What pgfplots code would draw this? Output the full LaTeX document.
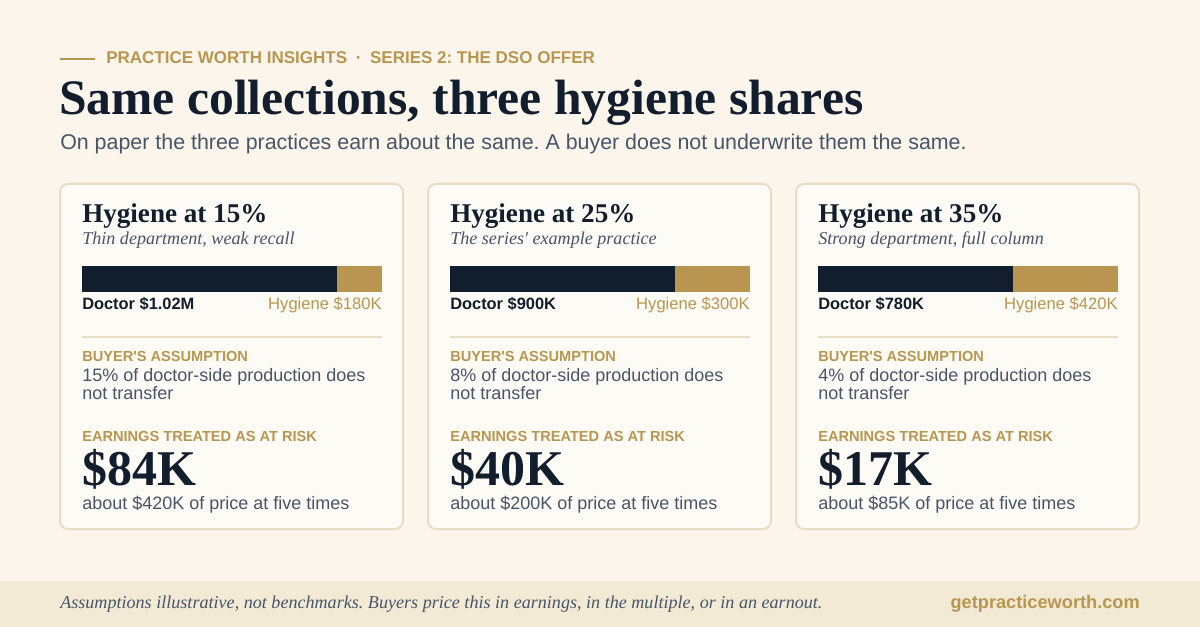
\documentclass[border=0pt]{standalone}
\usepackage{pgfplots}
\pgfplotsset{compat=1.18}
\usepackage{fontspec}
\setmainfont{Liberation Sans}
\newfontfamily\serif{Liberation Serif}
\frenchspacing

\definecolor{bg}{RGB}{251,245,235}
\definecolor{band}{RGB}{243,234,214}
\definecolor{cardfill}{RGB}{253,251,246}
\definecolor{cardline}{RGB}{231,220,196}
\definecolor{navy}{RGB}{18,30,46}
\definecolor{gold}{RGB}{184,150,79}
\definecolor{slate}{RGB}{71,85,105}

% sizes given in px of the 1200 wide picture (1px = 0.75pt)
\newcommand{\px}[1]{\fontsize{\fpeval{#1*0.75}pt}{\fpeval{#1*0.9}pt}\selectfont}

% one stacked bar: left edge in px, doctor, hygiene (thousands)
\newcommand{\splitbar}[3]{%
  \begin{scope}[x=1cm, y=1cm]
  \begin{axis}[at={(\fpeval{#1*0.75}pt,-199.5pt)}, anchor=north west,
      width=225pt, height=19.5pt, scale only axis,
      xmin=0, xmax=1200, ymin=-0.5, ymax=0.5,
      hide axis, xbar stacked, bar width=19.5pt, clip=false]
    \addplot[fill=navy, draw=none] coordinates {(#2,0)};
    \addplot[fill=gold, draw=none] coordinates {(#3,0)};
  \end{axis}
  \end{scope}}

% card text: x, heading, note, doctor, hygiene, pct, risk, price
\newcommand{\cardtext}[8]{%
  \fill[cardfill, draw=cardline, line width=1.5pt, rounded corners=6pt]
    (#1-22,184) rectangle (#1+321,529);
  \node[anchor=base west, inner sep=0, text=navy, font=\serif\bfseries\px{27.1}] at (#1,223) {#2};
  \node[anchor=base west, inner sep=0, text=slate, font=\serif\itshape\px{18.1}] at (#1,245) {#3};
  \node[anchor=base west, inner sep=0, text=navy, font=\bfseries\px{16.4}] at (#1,310) {Doctor #4};
  \node[anchor=base east, inner sep=0, text=gold, font=\px{16.6}] at (#1+300,310) {Hygiene #5};
  \draw[cardline, line width=0.9pt] (#1,337) -- (#1+300,337);
  \node[anchor=base west, inner sep=0, text=gold, font=\bfseries\px{14.6}] at (#1,362) {BUYER\textquotesingle S ASSUMPTION};
  \node[anchor=base west, inner sep=0, text=slate, font=\px{18}] at (#1,382) {#6 of doctor-side production does};
  \node[anchor=base west, inner sep=0, text=slate, font=\px{18}] at (#1,399) {not transfer};
  \node[anchor=base west, inner sep=0, text=gold, font=\bfseries\px{14.6}] at (#1,441) {EARNINGS TREATED AS AT RISK};
  \node[anchor=base west, inner sep=0, text=navy, font=\serif\bfseries\px{50}] at (#1,485) {#7};
  \node[anchor=base west, inner sep=0, text=slate, font=\px{18}] at (#1,509) {#8};
}

\begin{document}
\begin{tikzpicture}[x=0.75pt, y=-0.75pt]
\useasboundingbox (0,0) rectangle (1200,627);
\fill[bg] (0,0) rectangle (1200,627);
\fill[band] (0,581) rectangle (1200,627);

% header
\draw[gold, line width=2pt] (60,59) -- (95,59);
\node[anchor=base west, inner sep=0, text=gold, font=\bfseries\px{17}] at (106,64)
  {PRACTICE WORTH INSIGHTS\hspace{6.5pt}·\hspace{6.5pt}SERIES 2: THE DSO OFFER};
\node[anchor=base west, inner sep=0, text=navy, font=\serif\bfseries\px{49.6}] at (59,115)
  {Same collections, three hygiene shares};
\node[anchor=base west, inner sep=0, text=slate, font=\px{21.4}] at (60,150)
  {On paper the three practices earn about the same. A buyer does not underwrite them the same.};

% cards
\cardtext{82}{Hygiene at 15\%}{Thin department, weak recall}{\$1.02M}{\$180K}{15\%}{\$84K}{about \$420K of price at five times}
\cardtext{450}{Hygiene at 25\%}{The series\textquotesingle\ example practice}{\$900K}{\$300K}{8\%}{\$40K}{about \$200K of price at five times}
\cardtext{818}{Hygiene at 35\%}{Strong department, full column}{\$780K}{\$420K}{4\%}{\$17K}{about \$85K of price at five times}

% bars (thousands of dollars)
\splitbar{82}{1020}{180}
\splitbar{450}{900}{300}
\splitbar{818}{780}{420}

% footer
\node[anchor=base west, inner sep=0, text=slate, font=\serif\itshape\px{18.1}] at (60,608)
  {Assumptions illustrative, not benchmarks. Buyers price this in earnings, in the multiple, or in an earnout.};
\node[anchor=base east, inner sep=0, text=gold, font=\bfseries\px{18.2}] at (1140,608)
  {getpracticeworth.com};
\end{tikzpicture}
\end{document}
